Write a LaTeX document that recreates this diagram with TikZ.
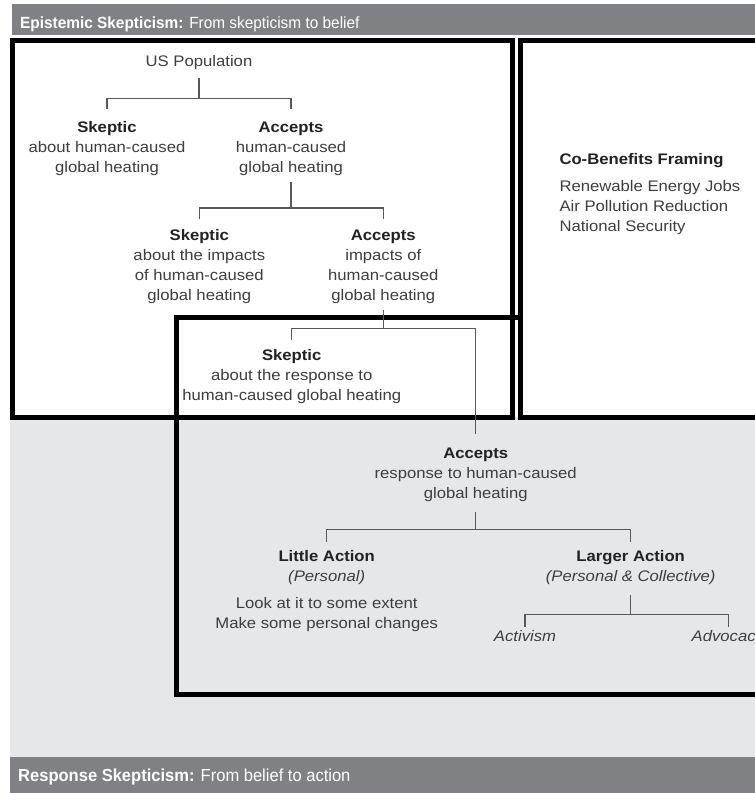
\documentclass[tikz,border=0pt]{standalone}
\usepackage{fontspec}
\setmainfont{Liberation Sans}[FakeStretch=1.09]
\newfontfamily\barfont{Liberation Sans}[FakeStretch=0.95]
\definecolor{bandgrey}{RGB}{128,129,132}
\definecolor{fieldgrey}{RGB}{230,231,232}
\definecolor{bodytxt}{RGB}{62,62,62}
\definecolor{headtxt}{RGB}{34,34,34}
\definecolor{linkgrey}{RGB}{88,88,88}
\newcommand\bodysize{\fontsize{15.3}{20}\selectfont}
\newcommand\fstrut{\rule{0pt}{11.2pt}}
\newcommand\headline[1]{\textbf{\color{headtxt}#1}}
\tikzset{
  lbl/.style={anchor=north, inner sep=0pt, align=center, text=bodytxt, font=\bodysize},
  conn/.style={draw=linkgrey, line width=1.4pt},
  frame/.style={draw=black, line width=5pt},
  bandtxt/.style={anchor=base west, inner sep=0pt, text=white, font=\barfont\fontsize{16.2}{18}\selectfont},
}
\begin{document}
\begin{tikzpicture}[x=1pt, y=-1pt]
  \useasboundingbox (0,0) rectangle (755,793);
  \clip (0,0) rectangle (755,793);
  \fill[white] (0,0) rectangle (755,793);

  % background bands
  \fill[bandgrey] (12,4) rectangle (755,35);
  \fill[fieldgrey] (10,417) rectangle (755,757);
  \fill[bandgrey] (10,757) rectangle (755,793);

  \node[bandtxt] (topband) at (20,28.3) {\textbf{Epistemic Skepticism:} From skepticism to belief};
  \node[bandtxt, font=\barfont\fontsize{17.4}{19}\selectfont] (lowband) at (18,781.5) {\textbf{Response Skepticism:} From belief to action};

  % frames
  \draw[frame] (176,317.5) rectangle (780,694.5);
  \draw[frame] (12,40.5) rectangle (512.5,417.5);
  \draw[frame, fill=white] (520,40.5) rectangle (780,417.5);

  % decision tree
  \node[lbl] (us) at (199,55) {\fstrut US Population};
  \node[lbl] (sk1) at (107,121.5) {\fstrut\headline{Skeptic}\\about human-caused\\global heating};
  \node[lbl] (ac1) at (291,121.5) {\fstrut\headline{Accepts}\\human-caused\\global heating};
  \node[lbl] (sk2) at (199.3,229.2) {\fstrut\headline{Skeptic}\\about the impacts\\of human-caused\\global heating};
  \node[lbl] (ac2) at (383.3,229.2) {\fstrut\headline{Accepts}\\impacts of\\human-caused\\global heating};
  \node[lbl] (sk3) at (291.7,349.3) {\fstrut\headline{Skeptic}\\about the response to\\human-caused global heating};
  \node[lbl] (ac3) at (475.7,446.7) {\fstrut\headline{Accepts}\\response to human-caused\\global heating};
  \node[lbl] (little) at (326.7,550) {\fstrut\headline{Little Action}\\\textit{(Personal)}\\[7pt]Look at it to some extent\\Make some personal changes};
  \node[lbl] (larger) at (630.7,550) {\fstrut\headline{Larger Action}\\\textit{(Personal \& Collective)}};
  \node[lbl] (activism) at (525,630) {\fstrut\textit{Activism}};
  \node[lbl] (advocacy) at (728.3,630) {\fstrut\textit{Advocacy}};

  \node[lbl, anchor=north west, align=left] (cobenefits) at (559.3,153.3)
    {\fstrut\headline{Co-Benefits Framing}\\[6.7pt]Renewable Energy Jobs\\Air Pollution Reduction\\National Security};

  % connectors
  \draw[conn] ([yshift=-8.6pt]us.south) -- ++(0,-20pt) coordinate (j1);
  \draw[conn] ([yshift=12.5pt]sk1.north) |- (j1) -| ([yshift=12.5pt]ac1.north);

  \draw[conn] ([yshift=-6pt]ac1.south) -- ++(0,-25.8pt) coordinate (j2);
  \draw[conn] ([yshift=10pt]sk2.north) |- (j2) -| ([yshift=10pt]ac2.north);

  \draw[conn] ([yshift=-6.4pt]ac2.south) -- ++(0,-18.3pt) coordinate (j3);
  \draw[conn] ([yshift=9.3pt]sk3.north) |- (j3) -| ([yshift=12.7pt]ac3.north);

  \draw[conn] ([yshift=-10.6pt]ac3.south) -- ++(0,-17.3pt) coordinate (j4);
  \draw[conn] ([yshift=8.3pt]little.north) |- (j4) -| ([yshift=8.3pt]larger.north);

  \draw[conn] ([yshift=-10.6pt]larger.south) -- ++(0,-19.3pt) coordinate (j5);
  \draw[conn] ([yshift=3.3pt]activism.north) |- (j5) -| ([yshift=3.3pt]advocacy.north);
\end{tikzpicture}
\end{document}
